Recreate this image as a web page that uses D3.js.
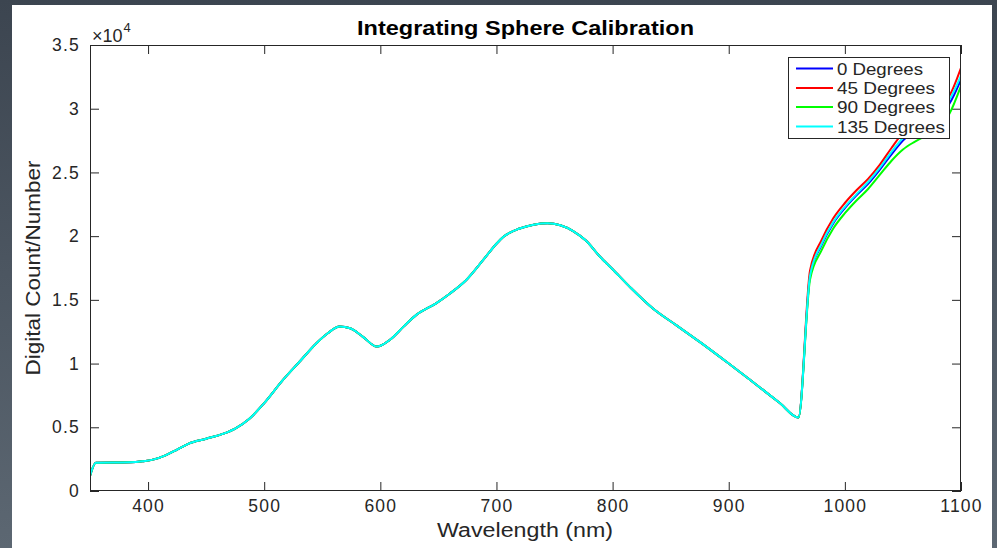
<!DOCTYPE html>
<html>
<head>
<meta charset="utf-8">
<script src="https://cdn.jsdelivr.net/npm/d3@7"></script>
<style>
  html, body { margin: 0; padding: 0; }
  body { width: 997px; height: 548px; overflow: hidden; }
  svg { display: block; font-family: "Liberation Sans", Arial, Helvetica, sans-serif; }
</style>
</head>
<body>
<svg id="chart" width="997" height="548"></svg>
<script>
// ---- Data ----
const baseWavelength = [350, 355, 370, 385, 395, 405, 415, 425, 435, 450, 465, 475, 487, 500, 516, 530, 545, 555, 565, 574, 585, 597, 608, 620, 631, 648, 660, 674, 690, 700, 706, 720, 732, 744, 755, 766, 777, 789, 800, 815, 835, 855, 875, 900, 918, 944, 960];
const baseCount      = [1180, 2220, 2230, 2250, 2330, 2480, 2800, 3250, 3720, 4100, 4500, 4900, 5650, 6900, 8700, 10100, 11600, 12400, 12900, 12770, 12100, 11330, 11850, 12900, 13820, 14730, 15500, 16560, 18300, 19400, 19950, 20600, 20900, 21010, 20850, 20400, 19650, 18400, 17400, 16000, 14300, 13000, 11700, 10000, 8750, 6900, 5760];

const tailWavelength = [970, 980, 990, 1000, 1010, 1020, 1030, 1040, 1050, 1060, 1070, 1080, 1090, 1100];
const tail0   = [16900, 19300, 21000, 22200, 23200, 24100, 25200, 26400, 27500, 28300, 28900, 29500, 30400, 32300];
const tail45  = [17300, 19700, 21400, 22600, 23600, 24500, 25600, 26900, 28100, 28900, 29500, 30100, 31000, 33200];
const tail90  = [16600, 18900, 20600, 21800, 22800, 23700, 24800, 25900, 26800, 27400, 27900, 28400, 29600, 31800];
const tail135 = [16900, 19400, 21100, 22300, 23300, 24250, 25350, 26600, 27700, 28500, 29100, 29700, 30700, 32600];

const seriesNames  = ["0 Degrees", "45 Degrees", "90 Degrees", "135 Degrees"];
const seriesColors = ["#0000ff", "#ff0000", "#00ff00", "#00ffff"];
const seriesTails  = [tail0, tail45, tail90, tail135];

const xTicks = [400, 500, 600, 700, 800, 900, 1000, 1100];
const yTicks = [0, 5000, 10000, 15000, 20000, 25000, 30000, 35000];
const yTickLabels = ["0", "0.5", "1", "1.5", "2", "2.5", "3", "3.5"];

const titleText = "Integrating Sphere Calibration";
const xLabelText = "Wavelength (nm)";
const yLabelText = "Digital Count/Number";

// ---- Build series ----
const wavelengths = baseWavelength.concat(tailWavelength);
const series = seriesNames.map((name, i) => {
  const vals = baseCount.concat(seriesTails[i]);
  return { name, color: seriesColors[i], points: wavelengths.map((w, j) => ({ x: w, y: vals[j] })) };
});

// ---- Layout ----
const svg = d3.select("#chart");
const W = 997, H = 548;
const plot = { left: 90, right: 961, top: 45, bottom: 491 };

// background
const defs = svg.append("defs");
const grad = defs.append("linearGradient").attr("id", "bg").attr("x1", 0).attr("y1", 0).attr("x2", 0).attr("y2", 1);
grad.append("stop").attr("offset", "0%").attr("stop-color", "#3c4550");
grad.append("stop").attr("offset", "100%").attr("stop-color", "#5c6772");
svg.append("rect").attr("width", W).attr("height", H).attr("fill", "url(#bg)");
svg.append("rect").attr("x", 12).attr("y", 5).attr("width", 980).attr("height", H).attr("fill", "#ffffff");

const x = d3.scaleLinear().domain([350, 1100]).range([plot.left, plot.right]);
const y = d3.scaleLinear().domain([0, 35000]).range([plot.bottom, plot.top]);

const axisColor = "#262626";
const tickLen = 9;

function styleAxis(g) {
  g.select(".domain").remove();
  g.selectAll(".tick line").attr("stroke", axisColor).attr("stroke-width", 1);
}

// bottom axis
const gx = svg.append("g").attr("transform", `translate(0,${plot.bottom})`)
  .call(d3.axisBottom(x).tickValues(xTicks).tickSizeInner(-tickLen).tickSizeOuter(0).tickPadding(9).tickFormat(d3.format("d")));
styleAxis(gx);
gx.selectAll(".tick text").attr("fill", axisColor).style("font-size", "17.5px").style("letter-spacing", "1.2px");

// top axis ticks
const gxt = svg.append("g").attr("transform", `translate(0,${plot.top})`)
  .call(d3.axisTop(x).tickValues(xTicks).tickSizeInner(-tickLen).tickSizeOuter(0).tickFormat(""));
styleAxis(gxt);

// left axis
const gy = svg.append("g").attr("transform", `translate(${plot.left},0)`)
  .call(d3.axisLeft(y).tickValues(yTicks).tickSizeInner(-tickLen).tickSizeOuter(0).tickPadding(10)
    .tickFormat((d, i) => yTickLabels[i]));
styleAxis(gy);
gy.selectAll(".tick text").attr("fill", axisColor).style("font-size", "17.5px").style("letter-spacing", "1.2px");

// right axis ticks
const gyr = svg.append("g").attr("transform", `translate(${plot.right},0)`)
  .call(d3.axisRight(y).tickValues(yTicks).tickSizeInner(-tickLen).tickSizeOuter(0).tickFormat(""));
styleAxis(gyr);

// curves
const line = d3.line().x(d => x(d.x)).y(d => y(d.y)).curve(d3.curveMonotoneX);
const clip = defs.append("clipPath").attr("id", "clip");
clip.append("rect").attr("x", plot.left).attr("y", plot.top).attr("width", plot.right - plot.left).attr("height", plot.bottom - plot.top);
svg.append("g").attr("clip-path", "url(#clip)")
  .selectAll("path").data(series).join("path")
  .attr("d", d => line(d.points))
  .attr("fill", "none")
  .attr("stroke", d => d.color)
  .attr("stroke-width", 2)
  .attr("stroke-linejoin", "round");

// axis box
svg.append("rect").attr("x", plot.left + 0.5).attr("y", plot.top + 0.5)
  .attr("width", plot.right - plot.left - 1).attr("height", plot.bottom - plot.top - 1)
  .attr("fill", "none").attr("stroke", axisColor).attr("stroke-width", 1);

// exponent label
const ex = svg.append("text").attr("x", 92).attr("y", 42).attr("fill", axisColor).style("font-size", "18px");
ex.append("tspan").text("×10");
ex.append("tspan").attr("dx", 1).attr("dy", -10).style("font-size", "13px").text("4");

// title
svg.append("text").attr("x", 525.5).attr("y", 35).attr("text-anchor", "middle")
  .attr("fill", "#000").style("font-size", "21px").style("font-weight", "bold")
  .attr("textLength", 337).attr("lengthAdjust", "spacingAndGlyphs").text(titleText);

// x label
svg.append("text").attr("x", 525).attr("y", 537).attr("text-anchor", "middle")
  .attr("fill", axisColor).style("font-size", "20px")
  .attr("textLength", 176).attr("lengthAdjust", "spacingAndGlyphs").text(xLabelText);

// y label
svg.append("text").attr("transform", "translate(40,268) rotate(-90)").attr("text-anchor", "middle")
  .attr("fill", axisColor).style("font-size", "20px")
  .attr("textLength", 215).attr("lengthAdjust", "spacingAndGlyphs").text(yLabelText);

// legend
const lg = svg.append("g");
lg.append("rect").attr("x", 788.5).attr("y", 57.5).attr("width", 161).attr("height", 81)
  .attr("fill", "#fff").attr("stroke", axisColor).attr("stroke-width", 1);
const rowY = [68.5, 88, 107, 126.5];
const textW = [86, 98, 98, 108];
series.forEach((s, i) => {
  lg.append("line").attr("x1", 796).attr("x2", 833).attr("y1", rowY[i]).attr("y2", rowY[i])
    .attr("stroke", s.color).attr("stroke-width", 2);
  lg.append("text").attr("x", 837).attr("y", rowY[i] + 6).attr("fill", axisColor)
    .style("font-size", "17px").attr("textLength", textW[i]).attr("lengthAdjust", "spacingAndGlyphs").text(s.name);
});
</script>
</body>
</html>
